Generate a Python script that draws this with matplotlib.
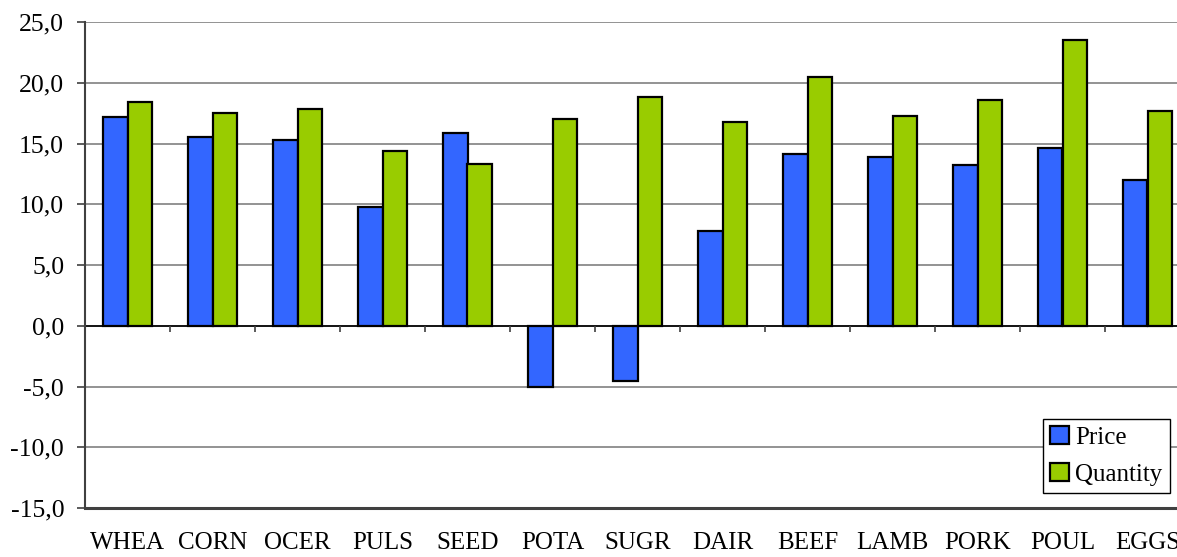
import numpy as np
import matplotlib
matplotlib.use("Agg")
import matplotlib.pyplot as plt
from matplotlib.ticker import FuncFormatter

# data
categories = ["WHEA", "CORN", "OCER", "PULS", "SEED", "POTA", "SUGR",
              "DAIR", "BEEF", "LAMB", "PORK", "POUL", "EGGS"]
price = [17.2, 15.5, 15.25, 9.75, 15.9, -5.0, -4.55,
         7.8, 14.15, 13.9, 13.2, 14.6, 12.0]
quantity = [18.45, 17.5, 17.8, 14.35, 13.3, 17.0, 18.85,
            16.75, 20.5, 17.3, 18.55, 23.55, 17.7]

plt.rcParams['font.family'] = ['Liberation Serif', 'DejaVu Serif']
plt.rcParams['font.size'] = 18

fig = plt.figure(figsize=(11.77, 5.57), dpi=100)
W, H = 1177, 557
ax = fig.add_axes([85 / W, 1 - 508 / H, (1190 - 85) / W, (508 - 22) / H])

x = np.arange(len(categories))
bw = 0.29
ax.bar(x - bw / 2, price, bw, color="#3366FF", edgecolor="black",
       linewidth=1.6, label="Price", zorder=3)
ax.bar(x + bw / 2, quantity, bw, color="#99CC00", edgecolor="black",
       linewidth=1.6, label="Quantity", zorder=3)

ax.set_xlim(-0.5, len(categories) - 0.5)
ax.set_ylim(-15, 25)
ax.set_yticks(np.arange(-15, 26, 5))
ax.yaxis.set_major_formatter(FuncFormatter(lambda v, p: f"{v:.1f}".replace(".", ",")))
ax.yaxis.grid(True, color="#808080", linewidth=1.2, zorder=0)
ax.set_axisbelow(True)

ax.set_xticks(x)
ax.set_xticklabels(categories)
ax.tick_params(axis="x", length=0, pad=17)
ax.tick_params(axis="y", length=6, width=1.2, color="#404040", pad=9,
               labelsize=18.5)

# zero line with separators between categories
ax.axhline(0, color="black", linewidth=1.2, zorder=2)
ax.vlines(np.arange(len(categories) + 1) - 0.5, -0.5, 0, color="#404040",
          linewidth=1.2, zorder=2)

for s in ["top", "right"]:
    ax.spines[s].set_visible(False)
ax.spines["left"].set_color("#404040")
ax.spines["left"].set_linewidth(1.5)
ax.spines["bottom"].set_color("#404040")
ax.spines["bottom"].set_linewidth(2.2)

leg = ax.legend(loc="lower right", bbox_to_anchor=(1170 / W, 1 - 493 / H),
                bbox_transform=fig.transFigure, borderaxespad=0,
                fancybox=False, edgecolor="black", framealpha=1,
                handlelength=0.75, handleheight=0.75, handletextpad=0.25,
                borderpad=0.3, labelspacing=0.55)
leg.get_frame().set_linewidth(1.0)

fig.savefig("out.png", dpi=100)
